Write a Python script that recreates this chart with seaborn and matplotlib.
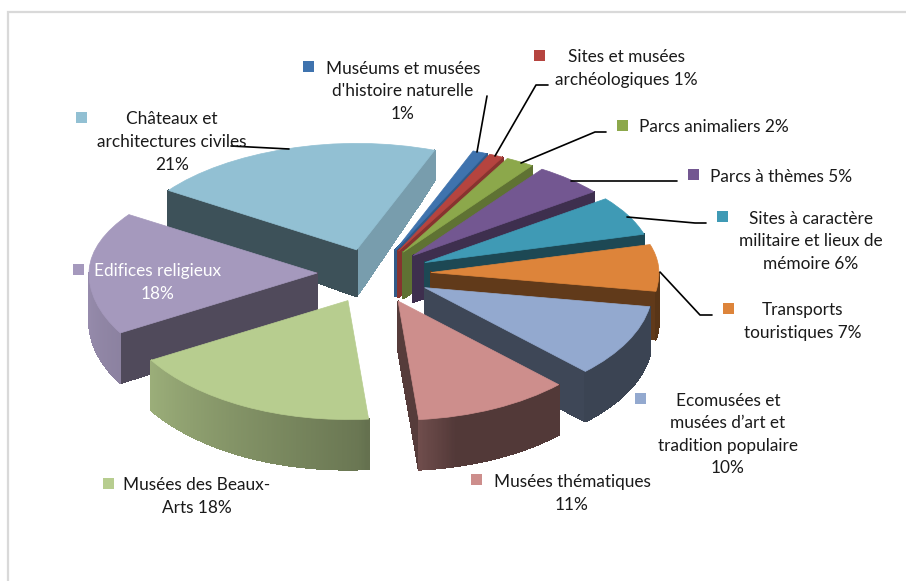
import numpy as np
import matplotlib
matplotlib.use("Agg")
import matplotlib.pyplot as plt
from matplotlib.lines import Line2D
from matplotlib.patches import Rectangle
import seaborn as sns

categories = ["Muséums et musées\nd'histoire naturelle\n1%",
              "Sites et musées\narchéologiques 1%",
              "Parcs animaliers 2%",
              "Parcs à thèmes 5%",
              "Sites à caractère\nmilitaire et lieux de\nmémoire 6%",
              "Transports\ntouristiques 7%",
              "Ecomusées et\nmusées d’art et\ntradition populaire\n10%",
              "Musées thématiques\n11%",
              "Musées des Beaux-\nArts 18%",
              "Edifices religieux\n18%",
              "Châteaux et\narchitectures civiles\n21%"]
values = [1, 1, 2, 5, 6, 7, 10, 11, 18, 18, 21]
colors = ["#3F73AE", "#B5443F", "#8CA84B", "#735791", "#3F9AB5", "#DD843A",
          "#93A9CF", "#CD8E8C", "#B7CD8F", "#A599BD", "#92C0D3"]

W, H = 906, 581
CX, CY, RX, RY = 374, 274, 228, 115

sns.set_theme(style="white")
plt.rcParams['font.family'] = ['Lato', 'DejaVu Sans']
palette = sns.color_palette(colors)

fig = plt.figure(figsize=(W / 100, H / 100), dpi=100, facecolor="white")
ax = fig.add_axes([0, 0, 1, 1])
wedges, _ = ax.pie(values, colors=palette, startangle=70, counterclock=False,
                   explode=[0.25] * len(values), radius=1,
                   wedgeprops=dict(linewidth=0))
ax.set_aspect("auto")

# Perspective of the tilted pie: the far side of the plate is flattened.
far_px = np.array([0, 132, 158, 190, 240, 274, 300, 382, 414, 581], dtype=float)
near_px = np.array([0, 144, 169, 198, 244, 274, 301, 385, 419, 581], dtype=float)
raw_y = (CY - far_px[::-1]) / RY
warped_y = (CY - near_px[::-1]) / RY


def fwd(y):
    return np.interp(y, raw_y, warped_y)


def inv(y):
    return np.interp(y, warped_y, raw_y)


ax.set_yscale("function", functions=(fwd, inv))
ax.set_xlim(-CX / RX, (W - CX) / RX)
ax.set_ylim((CY - H) / RY, CY / RY)
ax.axis("off")


def bottom(y):
    """Foot of the extruded wall under a point of the plate."""
    wy = fwd(y)
    py = CY - wy * RY
    return inv(wy - np.interp(py, [150, 190, 247, 330], [30, 37, 46, 50]) / RY)


def shade(c, f):
    return tuple(np.clip(np.array(c) * f, 0, 1))


def radial_factor(normal):
    n = (normal + 180) % 360 - 180
    return np.interp(n, [-175, -120, -60, -34, -20], [0.42, 0.42, 0.48, 0.68, 0.82])


def arc_factor(phi):
    return np.interp(phi % 360, [180, 210, 240, 273, 285, 360], [0.92, 0.85, 0.72, 0.58, 0.40, 0.40])


def quad(p, q, color, z):
    ys = np.array([p[1], q[1]])
    feet = bottom(ys)
    ax.fill([p[0], q[0], q[0], p[0]], [p[1], q[1], feet[1], feet[0]],
            color=color, linewidth=0.8, antialiased=False, zorder=z)


order = [10, 9, 8] + list(range(8))
for rank, i in enumerate(order):
    w = wedges[i]
    base = palette[i]
    cx, cy = w.center
    z = 2 * rank + 1
    w.set_zorder(z + 1)
    w.set_edgecolor(base)
    w.set_linewidth(0.5)
    t1, t2 = w.theta1, w.theta2
    pt = lambda a: (cx + np.cos(np.radians(a)), cy + np.sin(np.radians(a)))
    # radial walls that face the viewer
    for a, normal in ((t1, t1 - 90), (t2, t2 + 90)):
        if np.sin(np.radians(normal)) < 0:
            ra = np.linspace(0, 1, 12)
            q0 = pt(a)
            for r0, r1 in zip(ra[:-1], ra[1:]):
                quad((cx + (q0[0] - cx) * r0, cy + (q0[1] - cy) * r0),
                     (cx + (q0[0] - cx) * r1, cy + (q0[1] - cy) * r1),
                     shade(base, radial_factor(normal)), z)
    # outer wall, shaded along the arc
    angles = np.linspace(t1, t2, max(int(t2 - t1) * 3, 4))
    for a0, a1 in zip(angles[:-1], angles[1:]):
        if np.sin(np.radians((a0 + a1) / 2)) < 0:
            quad(pt(a0), pt(a1), shade(base, arc_factor((a0 + a1) / 2)), z)

# Chart frame
fig.add_artist(Rectangle((7.5 / W, -0.02), 1.05, 1 - 11.5 / H + 0.02,
                         transform=fig.transFigure, fill=False,
                         edgecolor="#D9D9D9", linewidth=1.6))

# Data labels: centre x, first-line y, and marker box
label_layout = [
    (403, 67, "center", 303, 61),
    (626, 56, "center", 534, 50),
    (639, 126, "left", 617, 120),
    (710, 175, "left", 688, 169),
    (811, 217, "center", 717, 211),
    (803, 309, "center", 723, 303),
    (728, 399, "center", 635, 393),
    (572, 481, "center", 471, 474),
    (197, 484, "center", 103, 478),
    (158, 270, "center", 73, 264),
    (172, 118, "center", 76, 112),
]
LINE = 22.6
for i, (x, y, ha, mx, my) in enumerate(label_layout):
    col = "white" if i == 9 else "#1a1a1a"
    for k, line in enumerate(categories[i].split("\n")):
        fig.text(x / W, 1 - (y + 1.5 + k * LINE) / H, line, ha=ha, va="center",
                 fontsize=12.4, color=col, zorder=50)
    fig.add_artist(Rectangle((mx / W, 1 - (my + 11) / H), 11 / W, 11 / H,
                             transform=fig.transFigure, facecolor=palette[i],
                             edgecolor="none", zorder=49))

leaders = [
    [(487, 96), (477, 152)],
    [(548, 85), (536, 85), (495, 156)],
    [(606, 132), (595, 132), (521, 163)],
    [(677, 181), (571, 181)],
    [(706, 223), (695, 223), (627, 217)],
    [(712, 315), (700, 315), (660, 272)],
    [(231, 146), (289, 149)],
]
for pts in leaders:
    xs = [p[0] / W for p in pts]
    ys = [1 - p[1] / H for p in pts]
    fig.add_artist(Line2D(xs, ys, color="black", linewidth=1.2,
                          transform=fig.transFigure, zorder=48))

fig.savefig("out.png", dpi=100, facecolor="white")
